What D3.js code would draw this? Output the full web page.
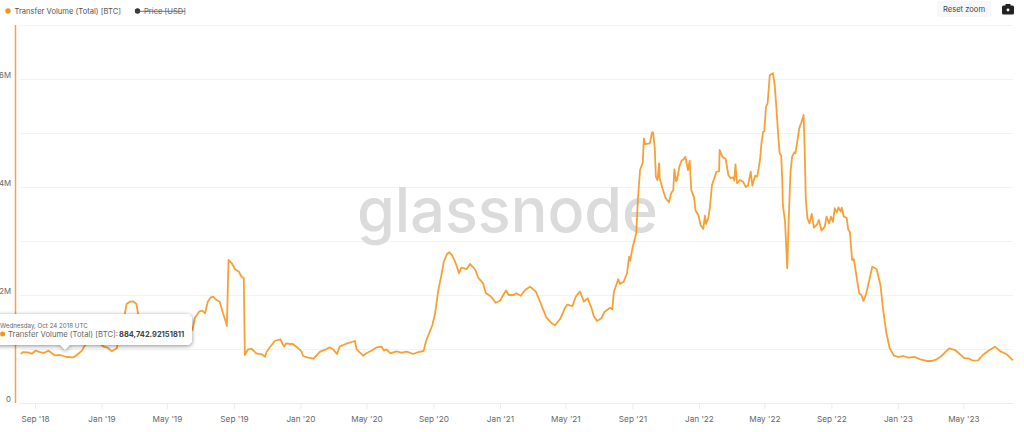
<!DOCTYPE html>
<html><head><meta charset="utf-8">
<script src="https://cdn.jsdelivr.net/npm/d3@7"></script>
<style>
html,body{margin:0;padding:0;background:#fff;overflow:hidden}
svg{display:block;font-family:Inter,"Open Sans",sans-serif}
</style></head><body><div id="c"></div>
<script>
const seriesName="Transfer Volume (Total) [BTC]";
const hiddenSeriesName="Price [USD]";
const startDate=new Date(Date.UTC(2018,7,6));
const dayOffsets=[0,4,13,20,27,35,42,51,62,72,84,97,103,112,119,130,141,152,160,167,176,178,183,191,194,200,206,212,215,222,237,255,273,292,306,315,319,327,333,338,343,348,353,359,365,370,376,378,381,387,393,400,405,409,411,417,423,432,442,448,451,460,466,476,483,487,493,499,509,515,518,527,537,549,560,566,573,580,585,596,613,616,628,634,643,653,662,666,671,678,689,698,708,720,729,739,743,747,755,760,766,771,776,782,786,791,799,804,808,818,824,830,834,839,848,853,863,871,879,890,895,904,909,917,925,934,945,952,964,974,980,989,998,1002,1012,1018,1026,1033,1040,1047,1051,1057,1065,1071,1081,1085,1088,1096,1099,1106,1112,1116,1118,1122,1129,1132,1136,1141,1143,1145,1154,1158,1160,1163,1165,1168,1171,1172,1177,1183,1189,1193,1197,1199,1202,1204,1208,1212,1216,1219,1224,1227,1230,1235,1238,1243,1247,1252,1255,1257,1261,1264,1268,1273,1276,1281,1282,1287,1293,1298,1302,1307,1309,1311,1314,1319,1325,1330,1334,1339,1342,1347,1351,1356,1359,1362,1364,1367,1370,1374,1380,1383,1386,1389,1392,1395,1397,1398,1402,1406,1409,1412,1415,1419,1421,1424,1428,1432,1436,1438,1440,1443,1447,1451,1455,1461,1464,1469,1475,1478,1483,1486,1490,1493,1497,1500,1504,1506,1510,1515,1518,1521,1525,1528,1532,1538,1542,1546,1551,1558,1562,1570,1577,1582,1588,1594,1602,1610,1619,1628,1640,1650,1662,1671,1680,1686,1695,1703,1714,1723,1731,1738,1747,1756,1765,1775,1787,1798,1809,1820];
const volumeM=[.907,.944,.939,.913,.969,.944,.926,.969,.883,.889,.852,.846,.889,.969,1.093,1.259,1.13,1.043,1.019,.957,1.013,1.111,1.444,1.661,1.833,1.876,1.883,1.833,1.661,1.444,1.296,1.204,1.259,1.259,1.315,1.352,1.569,1.691,1.709,1.661,1.876,1.95,1.969,1.907,1.876,1.691,1.504,1.426,2.648,2.587,2.476,2.431,2.339,2.309,.889,.994,1.006,.92,.902,.857,.95,1.074,1.148,1.18,1.043,1.106,1.093,1.093,1.013,.95,.87,.839,.82,.95,.994,1.031,.994,.907,1.043,1.093,1.148,.994,.876,.92,.969,1.031,1.043,.969,.994,.92,.957,.931,.95,.907,.944,.963,1.135,1.241,1.444,1.661,2.093,2.339,2.617,2.759,2.791,2.741,2.556,2.402,2.506,2.481,2.574,2.513,2.463,2.32,2.217,2.037,1.969,1.857,1.894,2.083,2.0,2.0,2.031,1.987,2.093,2.154,2.061,1.889,1.587,1.476,1.439,1.55,1.754,1.82,1.796,1.969,2.061,1.876,1.939,1.754,1.611,1.519,1.569,1.691,1.765,1.735,2.061,2.291,2.204,2.246,2.402,2.709,2.635,2.865,3.143,3.759,4.315,4.45,4.902,4.796,4.809,5.013,5.013,4.717,4.191,4.13,4.439,4.161,3.976,3.791,3.717,3.883,3.944,4.328,4.111,4.13,4.376,4.487,4.513,4.561,4.315,4.487,3.944,3.809,3.561,3.481,3.296,3.222,3.469,3.315,3.42,3.606,4.037,4.191,4.278,4.291,4.685,4.561,4.519,4.222,4.161,4.18,4.117,4.42,4.069,4.13,4.098,4.0,4.028,4.283,4.024,4.209,4.191,4.5,4.839,5.024,5.037,5.487,5.55,6.074,6.106,5.889,5.487,5.024,4.624,4.58,4.098,3.667,3.357,2.494,3.481,4.283,4.561,4.643,4.624,4.809,5.087,5.198,5.333,4.717,3.791,3.42,3.328,3.5,3.246,3.309,3.389,3.191,3.265,3.45,3.328,3.45,3.357,3.606,3.531,3.624,3.543,3.617,3.45,3.431,3.204,3.167,2.648,2.667,2.42,2.031,2.0,1.889,2.031,2.339,2.524,2.481,2.185,1.722,1.291,1.013,.876,.852,.87,.839,.852,.809,.778,.778,.809,.846,.931,1.013,.981,.902,.828,.828,.783,.791,.889,.969,1.043,.95,.902,.791];
const xTickDates=[[2018,8],[2019,0],[2019,4],[2019,8],[2020,0],[2020,4],[2020,8],[2021,0],[2021,4],[2021,8],[2022,0],[2022,4],[2022,8],[2023,0],[2023,4]].map(([y,m])=>new Date(Date.UTC(y,m,1)));
const gridValuesM=[0,1,2,3,4,5,6,7];
const yTickValuesM=[0,2,4,6];
const tooltipDate="Wednesday, Oct 24 2018 UTC";
const tooltipLabel="Transfer Volume (Total) [BTC]:";
const tooltipValue="884,742.92151811";

const W=1024,H=432,orange="#f7931a";
const x=d3.scaleUtc().domain([xTickDates[0],xTickDates[14]]).range([35,963.3]);
const y=d3.scaleLinear().domain([0,7]).range([403,25]);
const svg=d3.select("#c").append("svg").attr("width",W).attr("height",H).attr("viewBox",[0,0,W,H]);

// grid
svg.append("g").selectAll("line").data(gridValuesM.filter(v=>v>0)).join("line")
  .attr("x1",20).attr("x2",1013).attr("y1",d=>y(d)+.5).attr("y2",d=>y(d)+.5)
  .attr("stroke","#f3f3f3").attr("stroke-width",1);

// watermark
svg.append("text").attr("x",357).attr("y",232).attr("font-size",62).attr("font-weight",500)
  .attr("fill","#dbdbdb").attr("textLength",301).attr("lengthAdjust","spacingAndGlyphs").text("glassnode");

// x axis
const xAxis=d3.axisBottom(x).tickValues(xTickDates).tickSize(6).tickPadding(7)
  .tickFormat(d=>d3.utcFormat("%b '%y")(d));
const gx=svg.append("g").attr("transform","translate(0,403)").call(xAxis);
gx.select(".domain").attr("d","M20,0.5H1013").attr("stroke","#ececec");
gx.selectAll(".tick line").attr("stroke","#ececec");
gx.selectAll("text").attr("font-size",8.2).attr("fill","#666").attr("font-family","Inter");

// y axis labels
const yAxis=d3.axisLeft(y).tickValues(yTickValuesM).tickSize(0).tickPadding(0)
  .tickFormat(d=>d===0?"0":d+"M");
const gy=svg.append("g").attr("transform","translate(11,-4.5)").call(yAxis);
gy.select(".domain").remove();
gy.selectAll("text").attr("font-size",7.8).attr("fill","#666").attr("font-family","Inter");

// left axis line
svg.append("line").attr("x1",15.5).attr("x2",15.5).attr("y1",y(7)).attr("y2",y(0))
  .attr("stroke",orange).attr("stroke-width",1.5).attr("opacity",.85);

// series
const points=dayOffsets.map((d,i)=>({date:d3.utcDay.offset(startDate,d),v:volumeM[i]}));
svg.append("path").datum(points).attr("fill","none").attr("stroke",orange).attr("stroke-width",1.8)
  .attr("stroke-linejoin","round").attr("opacity",.88)
  .attr("d",d3.line().x(d=>x(d.date)).y(d=>y(d.v)));

// legend
const lg=svg.append("g").attr("font-size",7.6).attr("font-family","Inter");
lg.append("circle").attr("cx",8).attr("cy",11).attr("r",2.7).attr("fill",orange);
lg.append("text").attr("x",14.5).attr("y",13.8).attr("fill","#555").text(seriesName);
lg.append("circle").attr("cx",137.5).attr("cy",11).attr("r",2.7).attr("fill","#333");
lg.append("text").attr("x",144).attr("y",13.8).attr("fill","#666").text(hiddenSeriesName);
lg.append("line").attr("x1",135).attr("x2",185).attr("y1",11.3).attr("y2",11.3).attr("stroke","#555").attr("stroke-width",.8);

// reset zoom button
svg.append("rect").attr("x",937).attr("y",1).attr("width",54).attr("height",16).attr("rx",2).attr("fill","#f7f8fa");
svg.append("text").attr("x",964).attr("y",11.8).attr("text-anchor","middle").attr("font-size",7.6).attr("fill","#444").attr("font-family","Inter").text("Reset zoom");

// camera
const cam=svg.append("g").attr("transform","translate(1002,4)");
cam.append("rect").attr("x",0).attr("y",1.6).attr("width",12).attr("height",9).attr("rx",1.5).attr("fill","#222");
cam.append("rect").attr("x",3.5).attr("y",0).attr("width",5).attr("height",2.5).attr("fill","#222");
cam.append("circle").attr("cx",6).attr("cy",6).attr("r",1.4).attr("fill","#fff");

// tooltip
const tip=svg.append("g").style("filter","drop-shadow(0 1px 2px rgba(0,0,0,.45))");
tip.append("path").attr("fill","#fff")
  .attr("d",d3.line()([[-6,314],[189,314],[192,317],[192,342],[189,345],[70,345],[65,350],[60,345],[-6,345]]));
svg.append("text").attr("x",0).attr("y",327.5).attr("font-size",6.2).attr("fill","#666").attr("font-family","Inter").text(tooltipDate);
svg.append("circle").attr("cx",2.6).attr("cy",334).attr("r",2.5).attr("fill",orange);
const tt=svg.append("text").attr("x",8).attr("y",337).attr("font-size",7.7).attr("fill","#666").attr("font-family","Inter");
tt.append("tspan").text(tooltipLabel);
tt.append("tspan").attr("x",119).attr("font-size",7.5).attr("font-weight",700).attr("fill","#444").text(tooltipValue);
</script></body></html>
